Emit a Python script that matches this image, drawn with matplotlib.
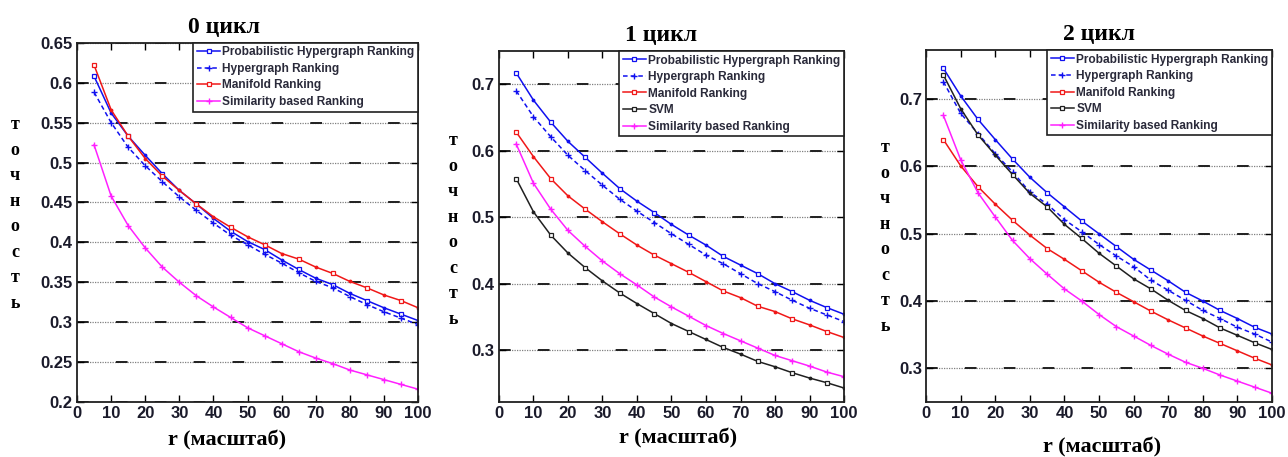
import numpy as np
import matplotlib.pyplot as plt

# r values (scale)
r = [5, 10, 15, 20, 25, 30, 35, 40, 45, 50, 55, 60, 65, 70, 75, 80, 85, 90, 95, 100]

# cycle 0
phr_0 = [0.608, 0.562, 0.533, 0.509, 0.486, 0.465, 0.448, 0.430, 0.414, 0.401, 0.391, 0.378, 0.366, 0.355,
         0.347, 0.336, 0.327, 0.318, 0.310, 0.302]
hr_0 = [0.588, 0.550, 0.519, 0.496, 0.476, 0.457, 0.440, 0.424, 0.409, 0.397, 0.385, 0.374, 0.362, 0.351,
        0.343, 0.332, 0.322, 0.313, 0.305, 0.297]
mr_0 = [0.622, 0.566, 0.533, 0.505, 0.483, 0.465, 0.448, 0.432, 0.419, 0.407, 0.397, 0.386, 0.379, 0.369,
        0.361, 0.351, 0.343, 0.334, 0.327, 0.318]
sim_0 = [0.522, 0.458, 0.421, 0.393, 0.369, 0.350, 0.333, 0.319, 0.306, 0.293, 0.283, 0.273, 0.263, 0.255,
         0.248, 0.240, 0.234, 0.228, 0.222, 0.216]

# cycle 1
phr_1 = [0.717, 0.676, 0.643, 0.614, 0.590, 0.566, 0.543, 0.524, 0.507, 0.489, 0.473, 0.458, 0.441, 0.428,
         0.415, 0.400, 0.388, 0.375, 0.364, 0.354]
hr_1 = [0.690, 0.651, 0.621, 0.593, 0.570, 0.548, 0.527, 0.509, 0.492, 0.475, 0.459, 0.443, 0.430, 0.415,
        0.400, 0.388, 0.375, 0.363, 0.353, 0.343]
mr_1 = [0.628, 0.591, 0.558, 0.532, 0.512, 0.493, 0.475, 0.458, 0.443, 0.430, 0.417, 0.403, 0.389, 0.379,
        0.366, 0.358, 0.347, 0.338, 0.328, 0.319]
svm_1 = [0.558, 0.508, 0.473, 0.446, 0.424, 0.404, 0.386, 0.370, 0.355, 0.340, 0.328, 0.316, 0.304, 0.294,
         0.283, 0.275, 0.266, 0.258, 0.251, 0.243]
sim_1 = [0.610, 0.551, 0.512, 0.480, 0.456, 0.434, 0.415, 0.398, 0.380, 0.365, 0.351, 0.337, 0.325, 0.314,
         0.303, 0.292, 0.284, 0.276, 0.267, 0.260]

# cycle 2
phr_2 = [0.746, 0.705, 0.670, 0.640, 0.611, 0.584, 0.561, 0.540, 0.519, 0.500, 0.481, 0.462, 0.446, 0.430,
         0.413, 0.400, 0.386, 0.374, 0.361, 0.351]
hr_2 = [0.726, 0.679, 0.649, 0.619, 0.592, 0.562, 0.544, 0.521, 0.503, 0.484, 0.467, 0.451, 0.431, 0.416,
        0.401, 0.386, 0.374, 0.361, 0.351, 0.339]
mr_2 = [0.640, 0.601, 0.570, 0.544, 0.520, 0.498, 0.478, 0.462, 0.445, 0.428, 0.413, 0.399, 0.385, 0.372,
        0.360, 0.348, 0.337, 0.326, 0.315, 0.305]
svm_2 = [0.736, 0.686, 0.647, 0.617, 0.588, 0.560, 0.540, 0.514, 0.493, 0.471, 0.452, 0.433, 0.418, 0.401,
         0.386, 0.374, 0.360, 0.349, 0.338, 0.328]
sim_2 = [0.676, 0.610, 0.561, 0.525, 0.490, 0.463, 0.440, 0.418, 0.400, 0.380, 0.362, 0.348, 0.334, 0.321,
         0.309, 0.300, 0.290, 0.281, 0.272, 0.263]

titles = ['0 цикл', '1 цикл', '2 цикл']
xticks = [0, 10, 20, 30, 40, 50, 60, 70, 80, 90, 100]
yticks_0 = [0.2, 0.25, 0.3, 0.35, 0.4, 0.45, 0.5, 0.55, 0.6, 0.65]
yticks_12 = [0.3, 0.4, 0.5, 0.6, 0.7]
ylabel = 'точность'
xlabel = 'r (масштаб)'

BLUE = '#1010f0'
RED = '#f01818'
MAG = '#ff20ff'
BLACK = '#202020'


def draw(ax, y, color, label, ls='-', kind='sq'):
    if kind == 'sq':
        h, = ax.plot(r, y, color=color, ls=ls, lw=1.1, marker='s', ms=3.2, mfc='white',
                     mec=color, mew=0.9, markevery=slice(0, None, 2), label=label)
        ax.plot(r, y, color=color, ls='none', marker='.', ms=3.5, markevery=slice(1, None, 2))
    else:
        h, = ax.plot(r, y, color=color, ls=ls, lw=1.1, marker='+', ms=4.5, mew=1.0, label=label)
    return h


fig = plt.figure(figsize=(12.88, 4.57), dpi=100)
axes = [fig.add_axes([0.0598, 0.1204, 0.2648, 0.786]),
        fig.add_axes([0.3874, 0.1204, 0.2679, 0.768]),
        fig.add_axes([0.7190, 0.1204, 0.2686, 0.770])]

sets = [
    [(phr_0, BLUE, 'Probabilistic Hypergraph Ranking', '-', 'sq'),
     (hr_0, BLUE, 'Hypergraph Ranking', (0, (3, 2)), 'plus'),
     (mr_0, RED, 'Manifold Ranking', '-', 'sq'),
     (sim_0, MAG, 'Similarity based Ranking', '-', 'plus')],
    [(phr_1, BLUE, 'Probabilistic Hypergraph Ranking', '-', 'sq'),
     (hr_1, BLUE, 'Hypergraph Ranking', (0, (3, 2)), 'plus'),
     (mr_1, RED, 'Manifold Ranking', '-', 'sq'),
     (svm_1, BLACK, 'SVM', '-', 'sq'),
     (sim_1, MAG, 'Similarity based Ranking', '-', 'plus')],
    [(phr_2, BLUE, 'Probabilistic Hypergraph Ranking', '-', 'sq'),
     (hr_2, BLUE, 'Hypergraph Ranking', (0, (3, 2)), 'plus'),
     (mr_2, RED, 'Manifold Ranking', '-', 'sq'),
     (svm_2, BLACK, 'SVM', '-', 'sq'),
     (sim_2, MAG, 'Similarity based Ranking', '-', 'plus')],
]
ylims = [(0.2, 0.65), (0.222, 0.75), (0.25, 0.773)]
ytick_sets = [yticks_0, yticks_12, yticks_12]
title_x = [0.43, 0.47, 0.5]
xlab_x = [0.44, 0.52, 0.51]
xlab_y = [-0.08, -0.075, -0.1]
ylab_x = [15, 453, 885]

serif = ['Liberation Serif', 'DejaVu Serif']
sans = ['Liberation Sans', 'DejaVu Sans']

for i, ax in enumerate(axes):
    handles = [draw(ax, *s) for s in sets[i]]
    ax.set_xlim(0, 100)
    ax.set_ylim(*ylims[i])
    ax.set_xticks(xticks)
    ax.set_yticks(ytick_sets[i])
    ax.set_yticklabels([('%g' % v) for v in ytick_sets[i]])
    for v in ytick_sets[i]:
        ax.axhline(v, color='#808080', lw=0.9, ls=(0, (1, 1)), zorder=0.5)
        ax.axhline(v, color='#202020', lw=1.4, ls=(0, (6, 14)), zorder=0.6)
    ax.tick_params(direction='in', length=5, width=1, top=True, right=True,
                   labelsize=12, pad=3)
    for lab in ax.get_xticklabels() + ax.get_yticklabels():
        lab.set_fontweight('bold')
        lab.set_family(sans)
        lab.set_color('#1a1a2a')
    for sp in ax.spines.values():
        sp.set_linewidth(1.3)
        sp.set_color('#202020')
    ax.set_title(titles[i], family=serif, fontsize=17, fontweight='bold', x=title_x[i], pad=7)
    ax.set_xlabel(xlabel, family=serif, fontsize=16, fontweight='bold')
    ax.xaxis.set_label_coords(xlab_x[i], xlab_y[i])
    leg = ax.legend(handles=handles, loc='upper right', borderaxespad=0, fancybox=False,
                    framealpha=1, edgecolor='#202020', handlelength=2.0, handletextpad=0.15,
                    labelspacing=0.38, borderpad=0.3,
                    prop={'family': sans, 'size': 8.6, 'weight': 'bold'})
    leg.get_frame().set_linewidth(1.2)
    for t in leg.get_texts():
        t.set_color('#2a2a3a')
    top = [214, 230, 237][i]
    fig.text(ylab_x[i] / 1288, 1 - top / 457, '\n'.join(ylabel), family=serif, fontsize=13,
             fontweight='bold', ha='center', va='center', linespacing=1.65)

fig.savefig('out.png', dpi=100)
